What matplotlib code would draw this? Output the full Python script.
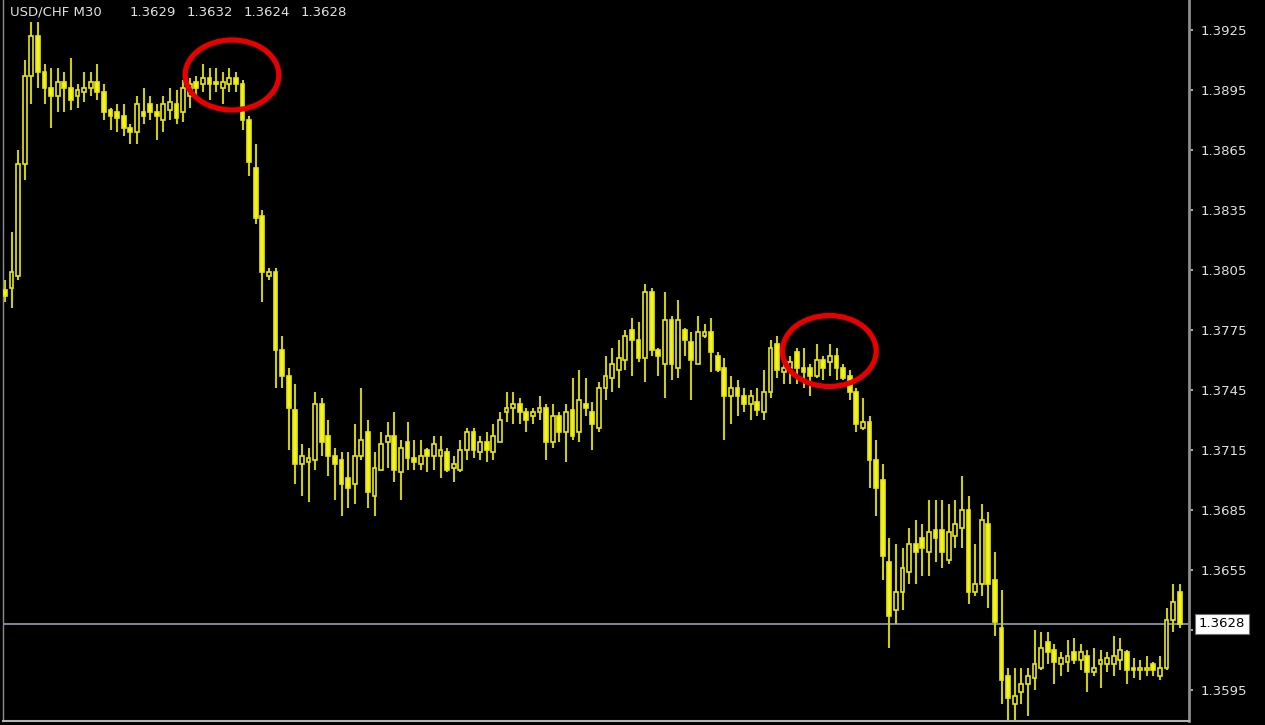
import numpy as np
import matplotlib
matplotlib.use("Agg")
import matplotlib.pyplot as plt
from matplotlib.patches import Ellipse

# USD/CHF M30 bars, prices in units of 0.0001
opens = [13795, 13796, 13802, 13858, 13902, 13922, 13904, 13896, 13892, 13899,
         13896, 13892, 13894, 13896, 13899, 13894, 13885, 13884, 13882, 13876,
         13874, 13884, 13888, 13884, 13880, 13885, 13888, 13884, 13892, 13899,
         13898, 13901, 13899, 13896, 13898, 13901, 13898, 13880, 13856, 13832,
         13802, 13804, 13765, 13752, 13735, 13708, 13709, 13710, 13738, 13722,
         13712, 13710, 13701, 13698, 13712, 13724, 13692, 13705, 13719, 13722,
         13704, 13719, 13711, 13708, 13715, 13712, 13712, 13714, 13706, 13705,
         13715, 13724, 13714, 13719, 13714, 13719, 13734, 13736, 13738, 13734,
         13732, 13734, 13736, 13719, 13732, 13724, 13735, 13724, 13738, 13734,
         13726, 13746, 13751, 13755, 13760, 13775, 13770, 13761, 13794, 13765,
         13758, 13780, 13756, 13775, 13769, 13758, 13772, 13774, 13762, 13756,
         13742, 13746, 13742, 13738, 13739, 13734, 13744, 13768, 13754, 13756,
         13764, 13756, 13756, 13752, 13760, 13759, 13762, 13756, 13752, 13744,
         13726, 13729, 13710, 13700, 13659, 13635, 13644, 13654, 13668, 13671,
         13664, 13675, 13675, 13660, 13672, 13676, 13685, 13644, 13648, 13678,
         13650, 13626, 13602, 13588, 13594, 13598, 13601, 13606, 13619, 13615,
         13608, 13609, 13614, 13610, 13612, 13604, 13608, 13608, 13608, 13610,
         13614, 13606, 13605, 13605, 13608, 13602, 13606, 13630, 13644]
highs = [13800, 13824, 13865, 13910, 13929, 13929, 13908, 13906, 13906, 13904,
         13911, 13898, 13904, 13904, 13908, 13898, 13886, 13888, 13888, 13878,
         13892, 13896, 13892, 13888, 13892, 13896, 13895, 13900, 13901, 13902,
         13908, 13906, 13906, 13904, 13906, 13904, 13900, 13882, 13868, 13835,
         13806, 13806, 13772, 13756, 13748, 13718, 13716, 13744, 13741, 13730,
         13716, 13714, 13714, 13728, 13746, 13730, 13714, 13724, 13729, 13734,
         13720, 13729, 13720, 13720, 13716, 13722, 13722, 13716, 13712, 13720,
         13726, 13726, 13722, 13724, 13728, 13734, 13744, 13744, 13741, 13736,
         13736, 13742, 13738, 13738, 13734, 13738, 13751, 13755, 13751, 13739,
         13749, 13762, 13766, 13770, 13775, 13781, 13779, 13798, 13796, 13766,
         13794, 13782, 13790, 13776, 13774, 13782, 13778, 13781, 13764, 13761,
         13752, 13750, 13746, 13745, 13746, 13755, 13770, 13772, 13760, 13762,
         13766, 13766, 13758, 13768, 13762, 13768, 13766, 13758, 13755, 13746,
         13741, 13732, 13720, 13708, 13671, 13668, 13666, 13676, 13680, 13678,
         13690, 13690, 13690, 13688, 13690, 13702, 13692, 13668, 13688, 13684,
         13664, 13645, 13606, 13606, 13606, 13606, 13625, 13624, 13624, 13618,
         13614, 13620, 13621, 13618, 13615, 13616, 13615, 13614, 13622, 13621,
         13615, 13611, 13610, 13612, 13609, 13612, 13636, 13648, 13648]
lows = [13789, 13786, 13800, 13850, 13888, 13896, 13888, 13876, 13884, 13884,
        13885, 13886, 13889, 13892, 13890, 13880, 13875, 13874, 13872, 13868,
        13868, 13878, 13880, 13870, 13874, 13880, 13878, 13879, 13886, 13892,
        13894, 13890, 13894, 13888, 13894, 13894, 13875, 13852, 13828, 13789,
        13800, 13746, 13746, 13715, 13698, 13692, 13689, 13705, 13712, 13702,
        13690, 13682, 13686, 13688, 13710, 13686, 13682, 13705, 13706, 13699,
        13690, 13705, 13705, 13705, 13704, 13705, 13701, 13704, 13699, 13704,
        13710, 13711, 13710, 13709, 13710, 13719, 13729, 13728, 13728, 13724,
        13728, 13730, 13710, 13716, 13719, 13709, 13720, 13719, 13732, 13715,
        13724, 13740, 13744, 13746, 13755, 13752, 13759, 13749, 13762, 13752,
        13741, 13750, 13751, 13762, 13740, 13758, 13771, 13754, 13754, 13720,
        13728, 13732, 13734, 13730, 13732, 13730, 13741, 13751, 13748, 13748,
        13748, 13746, 13742, 13751, 13750, 13752, 13750, 13750, 13740, 13724,
        13725, 13696, 13682, 13650, 13616, 13628, 13635, 13648, 13648, 13652,
        13652, 13659, 13656, 13658, 13666, 13666, 13638, 13642, 13642, 13636,
        13622, 13588, 13578, 13578, 13588, 13582, 13595, 13605, 13608, 13598,
        13602, 13604, 13608, 13605, 13594, 13602, 13596, 13604, 13602, 13605,
        13598, 13601, 13600, 13602, 13602, 13600, 13605, 13624, 13626]
closes = [13792, 13804, 13858, 13902, 13922, 13904, 13896, 13892, 13899, 13896,
          13890, 13895, 13896, 13899, 13894, 13884, 13882, 13881, 13876, 13874,
          13888, 13882, 13884, 13882, 13888, 13889, 13881, 13896, 13898, 13896,
          13901, 13898, 13898, 13899, 13901, 13898, 13880, 13859, 13831, 13804,
          13804, 13765, 13752, 13736, 13708, 13712, 13711, 13738, 13719, 13712,
          13708, 13698, 13696, 13712, 13720, 13694, 13706, 13718, 13722, 13705,
          13716, 13711, 13709, 13712, 13712, 13718, 13715, 13705, 13708, 13715,
          13724, 13715, 13719, 13715, 13722, 13730, 13736, 13738, 13734, 13730,
          13734, 13736, 13719, 13732, 13724, 13734, 13722, 13740, 13736, 13728,
          13746, 13752, 13758, 13761, 13772, 13770, 13761, 13794, 13765, 13762,
          13780, 13758, 13780, 13770, 13760, 13774, 13774, 13764, 13755, 13742,
          13746, 13742, 13738, 13742, 13735, 13744, 13766, 13755, 13756, 13759,
          13756, 13754, 13752, 13760, 13756, 13762, 13756, 13751, 13744, 13728,
          13729, 13710, 13696, 13662, 13632, 13644, 13656, 13668, 13664, 13666,
          13674, 13671, 13664, 13674, 13678, 13685, 13644, 13648, 13680, 13648,
          13629, 13600, 13591, 13592, 13598, 13602, 13608, 13616, 13614, 13609,
          13611, 13612, 13610, 13614, 13604, 13606, 13610, 13611, 13612, 13615,
          13605, 13605, 13606, 13606, 13605, 13606, 13630, 13639, 13628]

price_ticks = [1.3925, 1.3895, 1.3865, 1.3835, 1.3805, 1.3775, 1.3745,
               1.3715, 1.3685, 1.3655, 1.3625, 1.3595]
symbol_label = "USD/CHF M30"
last_bar_ohlc = ["1.3629", "1.3632", "1.3624", "1.3628"]

# circled spots: (bar index, price, width in bars, height in price)
circles = [(34.4, 1.39025, 14.2, 0.0035),
           (124.9, 1.37645, 14.2, 0.00355)]

o = np.array(opens) / 10000
h = np.array(highs) / 10000
l = np.array(lows) / 10000
c = np.array(closes) / 10000
idx = np.arange(len(c))

yellow = "#f5f51c"
W, H = 1265, 725
fig = plt.figure(figsize=(W / 100, H / 100), dpi=100, facecolor="black")
ax = fig.add_axes([3 / W, 4 / H, 1186 / W, 721 / H], facecolor="black")

ax.vlines(idx, l, h, color="#cccc10", linewidth=1.5, zorder=2)
bull = c >= o
faces = np.where(bull, "black", yellow)
ax.bar(idx, np.abs(c - o), bottom=np.minimum(o, c), width=0.58,
       color=faces, edgecolor="#e6e618", linewidth=1.2, zorder=3)

ax.axhline(c[-1], color="#8494a8", linewidth=1.3, zorder=1)

for cx, cy, cw, ch in circles:
    ax.add_patch(Ellipse((cx, cy), cw, ch, fill=False, edgecolor="#e80000",
                         linewidth=3.8, zorder=5))

ax.set_xlim(-0.3, 179.4)
ax.set_ylim(1.35795, 1.3940)
ax.set_xticks([])
ax.yaxis.tick_right()
ax.set_yticks(price_ticks)
ax.set_yticklabels(["" if abs(t - c[-1]) < 0.0008 else f"{t:.4f}" for t in price_ticks])
ax.tick_params(axis="y", colors="#a0a0a0", labelcolor="#e0e0e0", length=3,
               width=1.5, pad=5, labelsize=9.5)

ax.spines["top"].set_visible(False)
ax.spines["right"].set_color("#8c8c8c")
ax.spines["right"].set_linewidth(2)
ax.spines["left"].set_color("#8c8c8c")
ax.spines["left"].set_linewidth(1)
ax.spines["bottom"].set_color("#b4b4b4")
ax.spines["bottom"].set_linewidth(1.5)

ax.annotate(f"{c[-1]:.4f}", xy=(1, c[-1]), xycoords=("axes fraction", "data"),
            xytext=(10, 0), textcoords="offset pixels", ha="left", va="center",
            fontsize=9.5, color="black",
            bbox=dict(boxstyle="square,pad=0.3", facecolor="white",
                      edgecolor="#707070", linewidth=0.8),
            annotation_clip=False)

fig.text(10 / W, 1 - 12 / H, symbol_label, color="#e0e0e0", fontsize=9.5,
         ha="left", va="center")
for k, val in enumerate(last_bar_ohlc):
    fig.text((130 + 57 * k) / W, 1 - 12 / H, val, color="#e0e0e0",
             fontsize=9.5, ha="left", va="center")

fig.savefig("out.png", dpi=100, facecolor="black")
